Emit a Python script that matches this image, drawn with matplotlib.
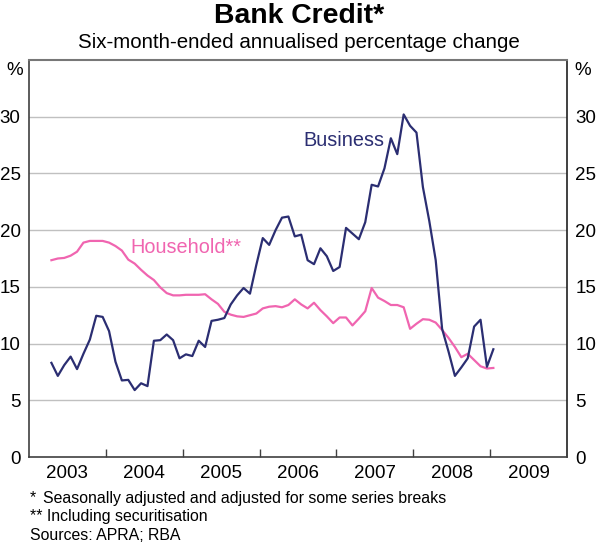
import matplotlib
matplotlib.use("Agg")
import matplotlib.pyplot as plt
import numpy as np

plt.rcParams['font.family'] = ['Liberation Sans', 'DejaVu Sans']

# Monthly data, April 2003 to January 2009
start_year = 2003
start_month = 4  # April
business = [8.3, 7.15, 8.1, 8.85, 7.75, 9.1, 10.35, 12.45, 12.35, 11.1,
            8.4, 6.75, 6.8, 5.9, 6.5, 6.25, 10.25, 10.3, 10.8, 10.3,
            8.7, 9.05, 8.9, 10.25, 9.7, 12.0, 12.1, 12.25, 13.45, 14.25,
            14.9, 14.4, 16.95, 19.3, 18.7, 20.0, 21.1, 21.2, 19.45, 19.6,
            17.35, 17.0, 18.4, 17.7, 16.4, 16.75, 20.2, 19.7, 19.2, 20.7,
            24.0, 23.85, 25.45, 28.1, 26.7, 30.2, 29.2, 28.6, 23.8, 20.8,
            17.35, 11.3, 9.3, 7.15, 7.9, 8.7, 11.5, 12.1, 7.95, 9.5]
household = [17.35, 17.5, 17.55, 17.75, 18.1, 18.9, 19.05, 19.05, 19.05, 18.9,
             18.6, 18.2, 17.4, 17.05, 16.5, 16.0, 15.6, 14.95, 14.45, 14.25,
             14.25, 14.3, 14.3, 14.3, 14.35, 13.9, 13.5, 12.8, 12.55, 12.4,
             12.35, 12.5, 12.65, 13.1, 13.25, 13.3, 13.2, 13.4, 13.9, 13.45,
             13.1, 13.6, 12.95, 12.4, 11.8, 12.3, 12.3, 11.6, 12.2, 12.85,
             14.9, 14.05, 13.75, 13.4, 13.4, 13.2, 11.3, 11.75, 12.15, 12.1,
             11.85, 11.2, 10.5, 9.7, 8.8, 9.1, 8.55, 8.0, 7.8, 7.85]
years = [2003, 2004, 2005, 2006, 2007, 2008, 2009]
yticks = [0, 5, 10, 15, 20, 25, 30]

x = start_year + (start_month - 1 + 0.5 + np.arange(len(business))) / 12.0

fig = plt.figure(figsize=(5.98, 5.45), dpi=100)
ax = fig.add_axes([29/598, 1 - 457/545, (567 - 29)/598, (457 - 60)/545])

navy = '#2b2e72'
pink = '#f065b0'

ax.set_xlim(2003, 2010)
ax.set_ylim(0, 35)
for v in yticks[1:]:
    ax.axhline(v, color='#c0c0c0', lw=1.0, zorder=1)

ax.plot(x, household, color=pink, lw=1.6, zorder=3)
ax.plot(x, business, color=navy, lw=1.6, zorder=4)

ax.set_yticks(yticks)
ax.set_yticklabels([str(v) for v in yticks])
ax.tick_params(axis='y', which='both', length=0, labelsize=13.5, pad=6,
               left=False, right=False, labelleft=True, labelright=True)

ax.set_xticks([y for y in years[1:]])
ax.set_xticklabels([''] * (len(years) - 1))
ax.set_xticks([y + 0.5 for y in years], minor=True)
ax.set_xticklabels([str(y) for y in years], minor=True)
ax.tick_params(axis='x', which='major', direction='in', length=6, width=1, color='#404040')
ax.tick_params(axis='x', which='minor', length=0, labelsize=13.5, pad=6)

for s in ['left', 'bottom']:
    ax.spines[s].set_color('#404040')
    ax.spines[s].set_linewidth(1.2)
ax.spines['right'].set_color('#202020')
ax.spines['right'].set_linewidth(1.2)
ax.spines['top'].set_color('#777777')
ax.spines['top'].set_linewidth(1.5)

ax.text(-0.027, 34.1, '%', transform=ax.get_yaxis_transform(), ha='center', va='center', fontsize=13.5)
ax.text(1.03, 34.1, '%', transform=ax.get_yaxis_transform(), ha='center', va='center', fontsize=13.5)

ax.text(2007.10, 27.9, 'Business', color=navy, fontsize=14.3, ha='center', va='center')
ax.text(2005.04, 18.5, 'Household**', color=pink, fontsize=14.3, ha='center', va='center')

fig.text(299/598, 1 - 16/545, 'Bank Credit*', ha='center', va='center', fontsize=20.4, fontweight='bold')
fig.text(299/598, 1 - 42/545, 'Six-month-ended annualised percentage change', ha='center', va='center', fontsize=14.8)

fig.text(30/598, 1 - 498/545, '*', ha='left', va='center', fontsize=11.4)
fig.text(43/598, 1 - 498/545, 'Seasonally adjusted and adjusted for some series breaks', ha='left', va='center', fontsize=11.4)
fig.text(30/598, 1 - 517/545, '** Including securitisation', ha='left', va='center', fontsize=11.4)
fig.text(30/598, 1 - 535/545, 'Sources: APRA; RBA', ha='left', va='center', fontsize=11.4)

fig.savefig('out.png', dpi=100)
